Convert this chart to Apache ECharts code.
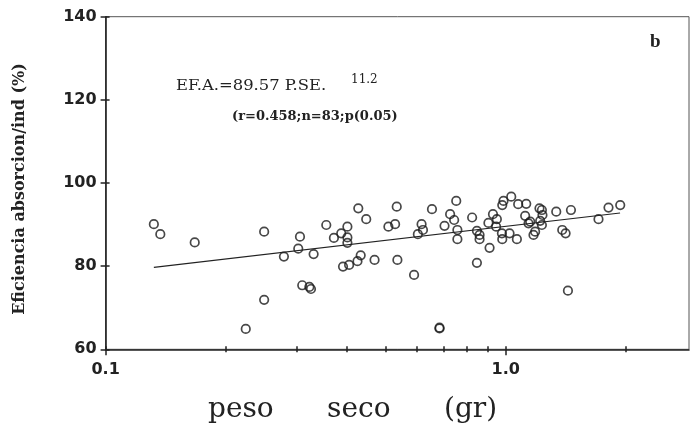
<!DOCTYPE html>
<html>
<head>
<meta charset="utf-8">
<script src="https://cdn.jsdelivr.net/npm/echarts@6/dist/echarts.min.js"></script>
<style>
  html, body { margin: 0; padding: 0; background: #fff; }
  #grafico { width: 690px; height: 431px; }
</style>
</head>
<body>
<div id="grafico"></div>
<script>
// peso seco (gr) vs eficiencia de absorcion por individuo (%)
var pesoSeco = [0.132, 0.137, 0.167, 0.249, 0.249, 0.224, 0.306, 0.279, 0.303, 0.331,
  0.356, 0.372, 0.388, 0.402, 0.402, 0.402, 0.428, 0.448, 0.509, 0.529,
  0.534, 0.392, 0.406, 0.426, 0.434, 0.470, 0.536, 0.310, 0.323, 0.326,
  0.654, 0.752, 0.726, 0.743, 0.703, 0.616, 0.621, 0.603, 0.757, 0.757,
  0.824, 0.847, 0.860, 0.860, 0.911, 0.847, 0.590, 0.683, 0.683, 0.929,
  0.905, 0.950, 0.946, 0.978, 0.980, 0.980, 0.987, 1.032, 1.074, 1.125,
  1.022, 1.066, 1.118, 1.140, 1.214, 1.231, 1.235, 1.219, 1.231, 1.184,
  1.173, 1.151, 1.337, 1.455, 1.384, 1.411, 1.430, 1.705, 1.806, 1.932];
var eficiencia = [90.1, 87.7, 85.7, 88.3, 71.9, 64.9, 87.1, 82.3, 84.2, 82.9,
  89.9, 86.8, 87.9, 89.5, 86.9, 85.6, 93.9, 91.3, 89.5, 90.1,
  94.3, 79.9, 80.3, 81.2, 82.6, 81.5, 81.5, 75.4, 75.0, 74.5,
  93.7, 95.7, 92.5, 91.1, 89.7, 90.1, 88.7, 87.7, 88.7, 86.5,
  91.7, 88.5, 87.5, 86.5, 84.4, 80.8, 77.9, 65.2, 65.0, 92.5,
  90.4, 91.3, 89.5, 87.9, 86.5, 94.7, 95.7, 96.7, 94.9, 95.0,
  87.9, 86.5, 92.1, 90.3, 93.9, 93.5, 92.3, 90.9, 89.9, 88.3,
  87.5, 90.7, 93.1, 93.5, 88.7, 87.9, 74.1, 91.3, 94.1, 94.7];

// recta de regresion (extremos)
var rectaX = [0.132, 1.93];
var rectaY = [79.7, 92.8];

var xMayores = [0.1, 1];
var xMenores = [0.2, 0.3, 0.4, 0.5, 0.6, 0.7, 0.8, 0.9, 2];

var puntos = pesoSeco.map(function (x, i) { return [x, eficiencia[i]]; });
var recta = rectaX.map(function (x, i) { return [x, rectaY[i]]; });

var ejeX = {
  type: 'log', min: 0.1, max: 2.87, logBase: 10,
  splitLine: { show: false }
};

var option = {
  animation: false,
  grid: {
    left: 105.6, top: 16.7, right: 1, bottom: 81.7,
    show: true, borderColor: '#555', borderWidth: 1
  },
  xAxis: [
    Object.assign({}, ejeX, {
      position: 'bottom',
      axisLine: { show: true, lineStyle: { color: '#222', width: 1.6 } },
      axisTick: { show: true, customValues: xMayores, length: 6, lineStyle: { color: '#222', width: 1.5 } },
      axisLabel: {
        customValues: xMayores, margin: 13,
        color: '#222', fontFamily: 'DejaVu Sans', fontSize: 16, fontWeight: 'bold',
        formatter: function (v) { return v < 0.5 ? '0.1' : '1.0'; }
      }
    }),
    Object.assign({}, ejeX, {
      position: 'bottom',
      axisLine: { show: false },
      axisTick: { show: true, customValues: xMenores, length: 3, lineStyle: { color: '#222', width: 1.5 } },
      axisLabel: { show: false }
    }),
    Object.assign({}, ejeX, {
      position: 'bottom',
      axisLine: { show: false },
      axisTick: { show: true, inside: true, customValues: xMayores.concat(xMenores), length: 3, lineStyle: { color: '#222', width: 1.5 } },
      axisLabel: { show: false }
    })
  ],
  yAxis: [
    {
      type: 'value', min: 60, max: 140, interval: 20,
      splitLine: { show: false },
      axisLine: { show: true, lineStyle: { color: '#222', width: 1.6 } },
      axisTick: { show: true, length: 5, lineStyle: { color: '#222', width: 1.5 } },
      axisLabel: { margin: 9, color: '#222', fontFamily: 'DejaVu Sans', fontSize: 16, fontWeight: 'bold' }
    },
    {
      type: 'value', min: 60, max: 140, interval: 20, position: 'left',
      splitLine: { show: false },
      axisLine: { show: false },
      axisTick: { show: true, inside: true, length: 4, lineStyle: { color: '#222', width: 1.5 } },
      axisLabel: { show: false }
    }
  ],
  graphic: [
    {
      type: 'text', left: 208, top: 396,
      style: { text: 'peso      seco      (gr)', font: '28px "DejaVu Serif"', fill: '#222' }
    },
    {
      type: 'text', x: 20, y: 189, rotation: Math.PI / 2,
      style: {
        text: 'Eficiencia absorcion/ind (%)', font: 'bold 16px "DejaVu Serif"',
        fill: '#222', align: 'center', verticalAlign: 'middle'
      }
    },
    {
      type: 'text', x: 176, y: 86.5, scaleX: 1.17,
      style: { text: 'EF.A.=89.57 P.SE.', font: '14px "DejaVu Serif"', fill: '#222', verticalAlign: 'middle' }
    },
    {
      type: 'text', x: 351, y: 80,
      style: { text: '11.2', font: '12px "DejaVu Serif"', fill: '#222', verticalAlign: 'middle' }
    },
    {
      type: 'text', x: 232, y: 117,
      style: { text: '(r=0.458;n=83;p(0.05)', font: 'bold 13px "DejaVu Serif"', fill: '#222', verticalAlign: 'middle' }
    },
    {
      type: 'text', left: 650, top: 33,
      style: { text: 'b', font: 'bold 19px "Liberation Serif"', fill: '#222' }
    }
  ],
  series: [
    {
      type: 'scatter', data: puntos,
      symbol: 'circle', symbolSize: 8.5,
      itemStyle: { color: 'rgba(0,0,0,0)', borderColor: '#1a1a1a', borderWidth: 1.7 }
    },
    {
      type: 'line', data: recta, showSymbol: false, silent: true,
      lineStyle: { color: '#222', width: 1.1 }
    }
  ]
};

var grafico = echarts.init(document.getElementById('grafico'));
grafico.setOption(option);
</script>
</body>
</html>
